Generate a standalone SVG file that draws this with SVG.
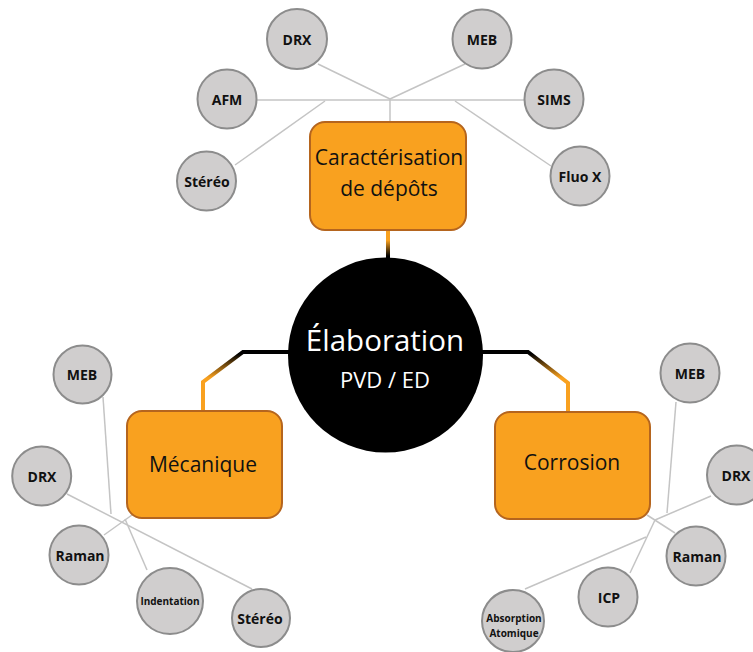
<svg xmlns="http://www.w3.org/2000/svg" width="753" height="652" viewBox="0 0 753 652">
<style>
.bg{fill:#ffffff}
.sat circle{fill:#D0CECE;stroke:#8C8C8C;stroke-width:2}
.sat text{font-family:"Open Sans","Liberation Sans",sans-serif;font-weight:bold;font-size:14px;fill:#111;text-anchor:middle}
.sat text.sm{font-size:10px}
.box rect{fill:#F9A11F;stroke:#B5651E;stroke-width:2}
.box text{font-family:"Open Sans","Liberation Sans",sans-serif;font-size:21px;fill:#111;text-anchor:middle}
.thin{stroke:#C4C4C4;stroke-width:1.5;fill:none}
.thick{stroke-width:4;fill:none;stroke-linejoin:miter}
.hub text{font-family:"Open Sans","Liberation Sans",sans-serif;fill:#ffffff;text-anchor:middle}
</style>
<defs>
<linearGradient id="gTop" gradientUnits="userSpaceOnUse" x1="0" y1="232" x2="0" y2="256">
<stop offset="0" stop-color="#F9A11F"/><stop offset="0.35" stop-color="#F9A11F"/><stop offset="1" stop-color="#000000"/>
</linearGradient>
<linearGradient id="gSide" gradientUnits="userSpaceOnUse" x1="0" y1="354" x2="0" y2="378">
<stop offset="0" stop-color="#000000"/><stop offset="1" stop-color="#F9A11F"/>
</linearGradient>
</defs>
<rect class="bg" x="0" y="0" width="753" height="652"/>

<g id="connectors">
  <!-- top cluster -->
  <line class="thin" x1="257" y1="100" x2="524" y2="100"/>
  <line class="thin" x1="318" y1="64" x2="390" y2="99"/>
  <line class="thin" x1="465" y1="64" x2="390" y2="99"/>
  <line class="thin" x1="235" y1="165" x2="325" y2="101"/>
  <line class="thin" x1="455" y1="101" x2="551" y2="166"/>
  <line class="thin" x1="390" y1="99" x2="390" y2="122"/>
  <!-- left cluster -->
  <line class="thin" x1="103" y1="397" x2="111" y2="514"/>
  <line class="thin" x1="67" y1="494" x2="252" y2="589"/>
  <line class="thin" x1="104" y1="535" x2="132" y2="515"/>
  <line class="thin" x1="125" y1="519" x2="147" y2="570"/>
  <!-- right cluster -->
  <line class="thin" x1="676" y1="402" x2="667" y2="513"/>
  <line class="thin" x1="711" y1="496" x2="655" y2="520"/>
  <line class="thin" x1="525" y1="589" x2="646" y2="537"/>
  <line class="thin" x1="647" y1="515" x2="675" y2="533"/>
  <line class="thin" x1="630" y1="573" x2="655" y2="520"/>
  <!-- main connectors -->
  <path class="thick" stroke="url(#gTop)" d="M388 230 L388 262"/>
  <path class="thick" stroke="url(#gSide)" d="M290 352 L243 352 L203 382 L203 412"/>
  <path class="thick" stroke="url(#gSide)" d="M481 352 L528 352 L568 383 L568 413"/>
</g>

<g id="hub" class="hub">
  <circle cx="385.5" cy="355" r="97.5" fill="#000000"/>
  <text x="385" y="351" font-size="29.5">Élaboration</text>
  <text x="385" y="388" font-size="22">PVD / ED</text>
</g>

<g id="caracterisation" class="box">
  <rect x="310" y="122" width="156" height="108" rx="15"/>
  <text x="389" y="165">Caractérisation</text>
  <text x="389" y="196">de dépôts</text>
</g>
<g id="mecanique" class="box">
  <rect x="127" y="411" width="155" height="107" rx="15"/>
  <text x="203" y="472">Mécanique</text>
</g>
<g id="corrosion" class="box">
  <rect x="495" y="412" width="155" height="107" rx="15"/>
  <text x="572" y="470">Corrosion</text>
</g>

<!-- top satellites -->
<g id="top-drx" class="sat"><circle cx="297" cy="39" r="30"/><text x="297" y="45">DRX</text></g>
<g id="top-meb" class="sat"><circle cx="482" cy="39" r="29.5"/><text x="482" y="45">MEB</text></g>
<g id="top-afm" class="sat"><circle cx="227" cy="99" r="29.5"/><text x="227" y="105">AFM</text></g>
<g id="top-sims" class="sat"><circle cx="554" cy="99" r="29.5"/><text x="554" y="105">SIMS</text></g>
<g id="top-stereo" class="sat"><circle cx="206.5" cy="181" r="29.5"/><text x="207" y="187">Stéréo</text></g>
<g id="top-fluox" class="sat"><circle cx="580" cy="176" r="29.5"/><text x="580" y="182">Fluo X</text></g>

<!-- left satellites -->
<g id="left-meb" class="sat"><circle cx="82.5" cy="374.5" r="29"/><text x="82" y="380">MEB</text></g>
<g id="left-drx" class="sat"><circle cx="41.7" cy="476" r="29.5"/><text x="42" y="482">DRX</text></g>
<g id="left-raman" class="sat"><circle cx="79" cy="555" r="29.5"/><text x="80" y="561">Raman</text></g>
<g id="left-indentation" class="sat"><circle cx="170" cy="601" r="33"/><text class="sm" x="170" y="605">Indentation</text></g>
<g id="left-stereo" class="sat"><circle cx="261" cy="618" r="29"/><text x="260" y="624">Stéréo</text></g>

<!-- right satellites -->
<g id="right-meb" class="sat"><circle cx="690" cy="373" r="29.5"/><text x="690" y="379">MEB</text></g>
<g id="right-drx" class="sat"><circle cx="736.5" cy="475" r="29.5"/><text x="736" y="481">DRX</text></g>
<g id="right-raman" class="sat"><circle cx="696" cy="556" r="29.5"/><text x="697" y="562">Raman</text></g>
<g id="right-icp" class="sat"><circle cx="608" cy="597" r="29.5"/><text x="609" y="603">ICP</text></g>
<g id="right-absorption" class="sat"><circle cx="513" cy="621" r="31"/><text class="sm" x="514" y="622">Absorption</text><text class="sm" x="514" y="637">Atomique</text></g>
</svg>
